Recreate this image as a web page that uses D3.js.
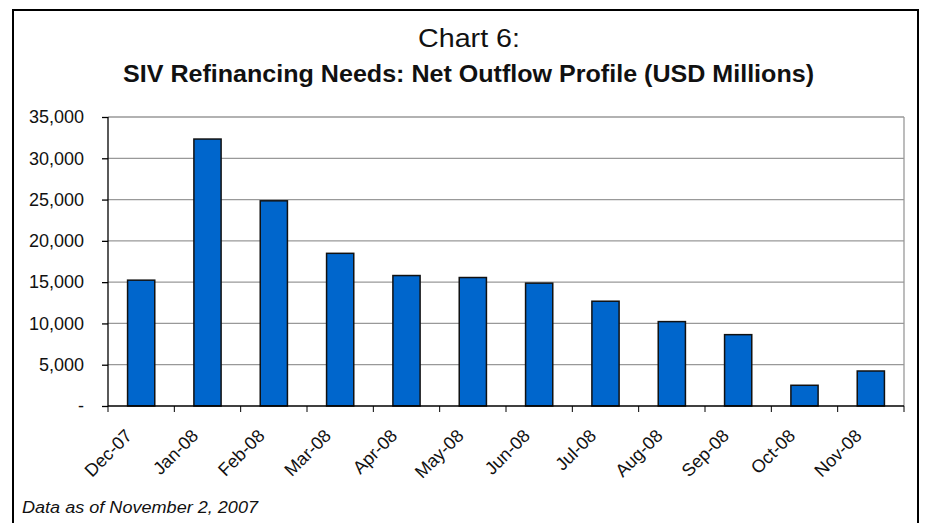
<!DOCTYPE html>
<meta charset="utf-8">
<style>
    body { margin: 0; background: #fff; }
    text { font-family: "Liberation Sans", Arial, sans-serif; fill: #111; }
</style>
<svg width="928" height="523"></svg>
<script src="https://cdn.jsdelivr.net/npm/d3@7"></script>
<script>

    var months = ["Dec-07", "Jan-08", "Feb-08", "Mar-08", "Apr-08", "May-08",
        "Jun-08", "Jul-08", "Aug-08", "Sep-08", "Oct-08", "Nov-08"];
    var outflow = [15240, 32330, 24850, 18490, 15800, 15560,
        14880, 12690, 10220, 8640, 2510, 4240];
    var yTicks = [0, 5000, 10000, 15000, 20000, 25000, 30000, 35000];

    var svg = d3.select("svg");
    var margin = {top: 117, right: 24, bottom: 117, left: 108},
        width = 928 - margin.left - margin.right,
        height = 523 - margin.top - margin.bottom;

    // outer frame
    svg.append("path")
        .attr("d", "M13,523V10H918V523")
        .attr("fill", "none")
        .attr("stroke", "#000")
        .attr("stroke-width", 2);

    svg.append("text")
        .attr("x", 418).attr("y", 47)
        .attr("textLength", 102)
        .attr("lengthAdjust", "spacingAndGlyphs")
        .style("font-size", "26px")
        .text("Chart 6:");

    svg.append("text")
        .attr("x", 123).attr("y", 82)
        .attr("textLength", 691)
        .attr("lengthAdjust", "spacingAndGlyphs")
        .style("font-size", "24px")
        .style("font-weight", "bold")
        .text("SIV Refinancing Needs: Net Outflow Profile (USD Millions)");

    svg.append("text")
        .attr("x", 22).attr("y", 513)
        .attr("textLength", 236)
        .attr("lengthAdjust", "spacingAndGlyphs")
        .style("font-size", "16px")
        .style("font-style", "italic")
        .text("Data as of November 2, 2007");

    var g = svg.append("g")
        .attr("transform", "translate(" + margin.left + "," + margin.top + ")");

    var x = d3.scaleBand()
        .domain(months)
        .range([0, width]);

    var y = d3.scaleLinear()
        .domain([0, 35000])
        .range([height, 0]);

    // gridlines
    g.selectAll(".grid")
        .data(yTicks.slice(1))
        .enter().append("line")
        .attr("x1", 0).attr("x2", width)
        .attr("y1", function(d) { return y(d); })
        .attr("y2", function(d) { return y(d); })
        .attr("stroke", "#999")
        .attr("stroke-width", 1.3);

    g.append("line")
        .attr("x1", width).attr("x2", width)
        .attr("y1", 0).attr("y2", height)
        .attr("stroke", "#999")
        .attr("stroke-width", 1.3);

    var barW = x.bandwidth() * 0.41;

    g.selectAll(".bar")
        .data(outflow)
        .enter().append("rect")
        .attr("class", "bar")
        .attr("x", function(d, i) { return x(months[i]) + (x.bandwidth() - barW) / 2; })
        .attr("y", function(d) { return y(d); })
        .attr("width", barW)
        .attr("height", function(d) { return height - y(d); })
        .attr("fill", "#0066cc")
        .attr("stroke", "#111")
        .attr("stroke-width", 1.5);

    var yAxis = g.append("g")
        .call(d3.axisLeft(y)
            .tickValues(yTicks)
            .tickSize(6)
            .tickPadding(18)
            .tickFormat(function(d) { return d === 0 ? "-" : d3.format(",")(d); }));
    yAxis.select(".domain").attr("d", "M0,0V" + height);
    yAxis.selectAll("text")
        .style("font-family", "'Liberation Sans', Arial, sans-serif")
        .style("font-size", "18px")
        .attr("fill", "#111");

    // x axis: ticks at band boundaries
    var xAxis = g.append("g").attr("transform", "translate(0," + height + ")");
    xAxis.append("line")
        .attr("x1", 0).attr("x2", width)
        .attr("stroke", "#000").attr("stroke-width", 1.5);
    xAxis.selectAll(".xt")
        .data(months.concat(["end"]))
        .enter().append("line")
        .attr("x1", function(d, i) { return i * x.step(); })
        .attr("x2", function(d, i) { return i * x.step(); })
        .attr("y1", 0).attr("y2", 6)
        .attr("stroke", "#000");

    xAxis.selectAll(".xl")
        .data(months)
        .enter().append("text")
        .attr("transform", function(d) {
            return "translate(" + (x(d) + x.bandwidth() / 2 - 17) + ",22) rotate(-45)";
        })
        .attr("text-anchor", "end")
        .attr("dy", "0.7em")
        .style("font-size", "18px")
        .text(function(d) { return d; });

    yAxis.selectAll("line, path").attr("stroke", "#000").attr("stroke-width", 1.3);

</script>
